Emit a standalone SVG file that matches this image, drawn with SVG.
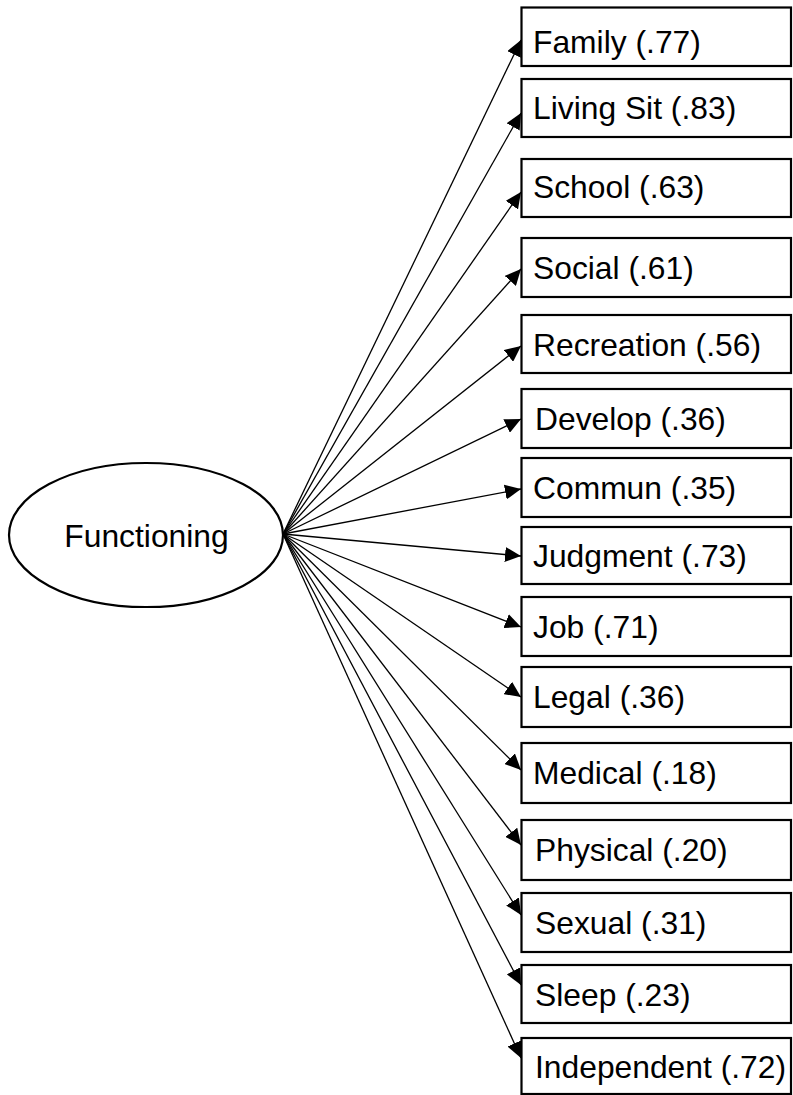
<svg xmlns="http://www.w3.org/2000/svg" width="793" height="1095" viewBox="0 0 793 1095">
<style>
.box{fill:#fff;stroke:#000;stroke-width:2.2}
.lbl{font-family:"Liberation Sans",Arial,sans-serif;font-size:31.8px;fill:#000}
.edge{stroke:#000;stroke-width:1.3;fill:none;marker-end:url(#ah)}
</style>
<defs>
<marker id="ah" markerUnits="userSpaceOnUse" markerWidth="17" markerHeight="15" refX="16" refY="7.5" orient="auto">
<path d="M0,0 L16,7.5 L0,15 z" fill="#000"/>
</marker>
</defs>
<rect width="793" height="1095" fill="#fff"/>
<g id="connectors">
<line class="edge" x1="283" y1="534" x2="521" y2="40"/>
<line class="edge" x1="283" y1="534" x2="521" y2="113"/>
<line class="edge" x1="283" y1="534" x2="521" y2="192"/>
<line class="edge" x1="283" y1="534" x2="521" y2="269"/>
<line class="edge" x1="283" y1="534" x2="521" y2="346"/>
<line class="edge" x1="283" y1="534" x2="521" y2="419"/>
<line class="edge" x1="283" y1="534" x2="521" y2="489"/>
<line class="edge" x1="283" y1="534" x2="521" y2="556"/>
<line class="edge" x1="283" y1="534" x2="521" y2="627"/>
<line class="edge" x1="283" y1="534" x2="521" y2="697"/>
<line class="edge" x1="283" y1="534" x2="521" y2="770"/>
<line class="edge" x1="283" y1="534" x2="521" y2="845"/>
<line class="edge" x1="283" y1="534" x2="521" y2="915"/>
<line class="edge" x1="283" y1="534" x2="521" y2="985"/>
<line class="edge" x1="283" y1="534" x2="521" y2="1058"/>
</g>
<g id="functioning">
<ellipse cx="146" cy="535" rx="137" ry="72" fill="#fff" stroke="#000" stroke-width="2.2"/>
<text class="lbl" x="146.5" y="547" text-anchor="middle">Functioning</text>
</g>
<g id="family"><rect class="box" x="521.5" y="7.5" width="269.5" height="58.5"/><text class="lbl" x="533" y="53">Family (.77)</text></g>
<g id="living"><rect class="box" x="521.5" y="79" width="269.5" height="58"/><text class="lbl" x="533" y="119">Living Sit (.83)</text></g>
<g id="school"><rect class="box" x="521.5" y="159" width="269.5" height="58"/><text class="lbl" x="533" y="198">School (.63)</text></g>
<g id="social"><rect class="box" x="521.5" y="238" width="269.5" height="59"/><text class="lbl" x="533" y="279">Social (.61)</text></g>
<g id="recreation"><rect class="box" x="521.5" y="315" width="269.5" height="58"/><text class="lbl" x="533" y="356">Recreation (.56)</text></g>
<g id="develop"><rect class="box" x="521.5" y="389" width="269.5" height="59"/><text class="lbl" x="535" y="430">Develop (.36)</text></g>
<g id="commun"><rect class="box" x="521.5" y="458" width="269.5" height="59"/><text class="lbl" x="533" y="499">Commun (.35)</text></g>
<g id="judgment"><rect class="box" x="521.5" y="527" width="269.5" height="57"/><text class="lbl" x="533" y="567">Judgment (.73)</text></g>
<g id="job"><rect class="box" x="521.5" y="597" width="269.5" height="59"/><text class="lbl" x="533" y="638">Job (.71)</text></g>
<g id="legal"><rect class="box" x="521.5" y="667" width="269.5" height="60"/><text class="lbl" x="533" y="708">Legal (.36)</text></g>
<g id="medical"><rect class="box" x="521.5" y="743" width="269.5" height="60"/><text class="lbl" x="533" y="784">Medical (.18)</text></g>
<g id="physical"><rect class="box" x="521.5" y="820" width="269.5" height="60"/><text class="lbl" x="535" y="861">Physical (.20)</text></g>
<g id="sexual"><rect class="box" x="521.5" y="893" width="269.5" height="59"/><text class="lbl" x="535" y="934">Sexual (.31)</text></g>
<g id="sleep"><rect class="box" x="521.5" y="965" width="269.5" height="58"/><text class="lbl" x="535" y="1006">Sleep (.23)</text></g>
<g id="independent"><rect class="box" x="521.5" y="1038" width="269.5" height="56"/><text class="lbl" x="535" y="1078">Independent (.72)</text></g>
</svg>
